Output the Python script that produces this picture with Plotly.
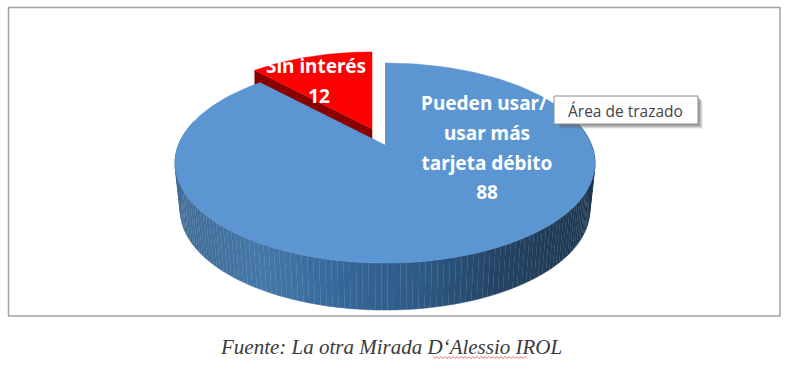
import numpy as np
import plotly.graph_objects as go

# ---- data ----
categories = ["Sin interés", "Pueden usar/ usar más tarjeta débito"]
values = [12, 88]
label_lines = [["Sin interés", "12"], ["Pueden usar/", "usar más", "tarjeta débito", "88"]]
source_text = "Fuente: La otra Mirada D‘Alessio IROL"
tooltip_text = "Área de trazado"

# ---- projection of the tilted pie onto the page ----
CX, CY, A, B, K = 385.0, 145.0, 206.6, 96.8, 0.18
DEPTH, BASE_SCALE = 47.0, 0.975
EXPLODE = (-13.0, -16.0)
RED_SCALE = 0.94


def project(t, r=1.0, z=0.0):
    """t: clockwise angle from 12 o'clock, r: radius, z: 0 top face, 1 base."""
    u, v = r * np.sin(t), r * np.cos(t)
    w = 1 + K * v
    sx = 1 - (1 - BASE_SCALE) * z
    return CX + sx * A * u / w, CY - B * v / w + DEPTH * z


def lerp_color(x, stops):
    xs = [s[0] for s in stops]
    return "rgb(%d,%d,%d)" % tuple(np.interp(x, xs, [s[1][i] for s in stops]) for i in range(3))


wall_stops = [(175, (64, 108, 150)), (260, (70, 120, 170)), (340, (54, 104, 155)), (420, (46, 90, 134)),
              (500, (36, 68, 100)), (596, (30, 54, 80))]

fracs = np.cumsum(values) / sum(values)
t_red = 2 * np.pi * fracs[0]          # red slice spans -t_red..0
fig = go.Figure()


def poly(xs, ys, color):
    fig.add_trace(go.Scatter(x=list(xs), y=list(ys), mode="lines", fill="toself", fillcolor=color,
                             line=dict(width=0.5, color=color), hoverinfo="skip", showlegend=False))


# red slice (exploded, behind the blue one)
ta = np.linspace(-t_red, 0, 40)
ax, ay = project(ta)
px0, py0 = project(0.0, 0.0)
rx = px0 + (ax - px0) * RED_SCALE + EXPLODE[0]
ry = py0 + (ay - py0) * RED_SCALE + EXPLODE[1]
apx, apy = px0 + EXPLODE[0], py0 + EXPLODE[1]
poly([rx[0], apx, apx, rx[0]], [ry[0], apy, apy + DEPTH, ry[0] + DEPTH], "#8a0000")
poly(list(rx) + [apx], list(ry) + [apy], "#ff0000")

# blue slice: side wall strips, then the top face
angles = np.linspace(0, 2 * np.pi - t_red, 220)
for t1, t2 in zip(angles[:-1], angles[1:]):
    if np.cos(t1) > 0.25 and np.cos(t2) > 0.25:
        continue
    x1, y1 = project(t1)
    x2, y2 = project(t2)
    x3, y3 = project(t2, z=1)
    x4, y4 = project(t1, z=1)
    poly([x1, x2, x3, x4], [y1, y2, y3, y4], lerp_color((x1 + x2) / 2, wall_stops))

bx, by = project(angles)
poly(list(bx) + [px0], list(by) + [py0], "#5b96d3")

# slice labels
LABEL_POS = [[(316, 68), (319, 98)], [(484, 105), (487, 135), (487, 165), (487, 194)]]
for lines, pos in zip(label_lines, LABEL_POS):
    fig.add_trace(go.Scatter(x=[p[0] for p in pos], y=[p[1] for p in pos], mode="text",
                             text=["<b>%s</b>" % s for s in lines], textposition="middle center",
                             textfont=dict(family="Noto Sans", size=19, color="white"),
                             hoverinfo="skip", showlegend=False))

# spell-check squiggle
sq_x = np.arange(433, 528, 2.0)
sq_y = [358.5 if i % 2 else 356.5 for i in range(len(sq_x))]
fig.add_trace(go.Scatter(x=sq_x, y=sq_y, mode="lines", line=dict(color="#d84a4a", width=0.8),
                         hoverinfo="skip", showlegend=False))

shapes = [dict(type="rect", x0=8.5, y0=7.5, x1=780, y1=316, line=dict(color="#a2a2a2", width=1.5), layer="below")]
for off, op in [(5, 0.10), (4, 0.16), (3, 0.22), (2, 0.28)]:
    shapes.append(dict(type="rect", x0=556 + off, y0=96 + off, x1=698 + off, y1=124 + off,
                       fillcolor="#606060", opacity=op, line=dict(width=0), layer="above"))
shapes.append(dict(type="rect", x0=554, y0=96, x1=698, y1=124, fillcolor="white",
                   line=dict(color="#8a8a8a", width=1), layer="above"))

annotations = [
    dict(x=625.5, y=110.5, text=tooltip_text, showarrow=False, xref="x", yref="y",
         font=dict(family="Open Sans", size=15.5, color="#444444")),
    dict(x=391, y=347, text="<i>%s</i>" % source_text, showarrow=False, xref="x", yref="y",
         font=dict(family="Liberation Serif", size=21, color="#3a3a3a")),
]

fig.update_layout(
    width=800, height=381, margin=dict(l=0, r=0, t=0, b=0),
    paper_bgcolor="white", plot_bgcolor="white", showlegend=False,
    xaxis=dict(range=[0, 800], visible=False, fixedrange=True),
    yaxis=dict(range=[381, 0], visible=False, fixedrange=True),
    shapes=shapes, annotations=annotations,
)
fig.write_html("out.html", config={"displayModeBar": False},
               post_script="document.body.style.margin='0';")
